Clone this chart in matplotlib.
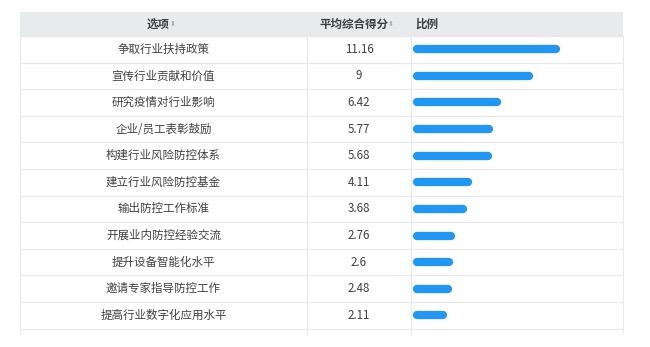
import matplotlib
matplotlib.use("Agg")
import matplotlib.pyplot as plt
from matplotlib.patches import Rectangle

plt.rcParams['font.family'] = ['Noto Sans CJK SC', 'DejaVu Sans']

options = ["争取行业扶持政策", "宣传行业贡献和价值", "研究疫情对行业影响", "企业/员工表彰鼓励",
           "构建行业风险防控体系", "建立行业风险防控基金", "输出防控工作标准", "开展业内防控经验交流",
           "提升设备智能化水平", "邀请专家指导防控工作", "提高行业数字化应用水平"]
scores = [11.16, 9, 6.42, 5.77, 5.68, 4.11, 3.68, 2.76, 2.6, 2.48, 2.11]
score_labels = ["11.16", "9", "6.42", "5.77", "5.68", "4.11", "3.68", "2.76", "2.6", "2.48", "2.11"]
headers = ["选项", "平均综合得分", "比例"]

W, H = 650, 347
fig = plt.figure(figsize=(W / 100, H / 100), dpi=100)
ax = fig.add_axes([0, 0, 1, 1])
ax.set_xlim(0, W)
ax.set_ylim(H, 0)
ax.axis('off')

left, right = 20, 623
c1, c2 = 307, 411
head_top, head_bot = 12, 36
row_h = 26.6
n = len(options)
table_bot = head_bot + row_h * n
line_col = '#e8e8e8'
txt_col = '#404040'
fs = 8.3

ax.add_patch(Rectangle((left, head_top), right - left, head_bot - head_top,
                       facecolor='#e9eaec', edgecolor='none'))
for i in range(n + 1):
    y = head_bot + row_h * i
    ax.plot([left, right], [y, y], color=line_col, lw=0.8)
for x in (left, c1, c2, right):
    ax.plot([x, x], [head_bot, table_bot + 4], color=line_col, lw=0.8)

hy = (head_top + head_bot) / 2
ax.text(158, hy, headers[0], ha='center', va='center', fontsize=fs, fontweight='bold', color=txt_col)
ax.text(169.5, hy, "⬍", ha='left', va='center', fontsize=5, color='#aaaaaa')
ax.text(354.5, hy, headers[1], ha='center', va='center', fontsize=fs, fontweight='bold', color=txt_col)
ax.text(388, hy, "⬍", ha='left', va='center', fontsize=5, color='#aaaaaa')
ax.text(c2 + 4, hy, headers[2], ha='left', va='center', fontsize=fs, fontweight='bold', color=txt_col)

for i, (o, s) in enumerate(zip(options, score_labels)):
    y = head_bot + row_h * (i + 0.5)
    ax.text((left + c1) / 2, y, o, ha='center', va='center', fontsize=fs, color=txt_col)
    ax.text((c1 + c2) / 2, y, s, ha='center', va='center', fontsize=fs, color=txt_col)

# bar column: its own axes, x in score units, y in row index
bar_x0, bar_x1 = 417, 623
px_per_unit = 139 / 11.16
bx = fig.add_axes([bar_x0 / W, 0, (bar_x1 - bar_x0) / W, 1])
bx.set_xlim(0, (bar_x1 - bar_x0) / px_per_unit)
top_i = -(head_bot + row_h * 0.5) / row_h
bx.set_ylim(top_i + H / row_h, top_i)
bx.axis('off')
for i, s in enumerate(scores):
    bx.plot([0, s], [i, i], color='#2196f3', lw=6, solid_capstyle='round', clip_on=False)

fig.savefig('out.png', dpi=100)
